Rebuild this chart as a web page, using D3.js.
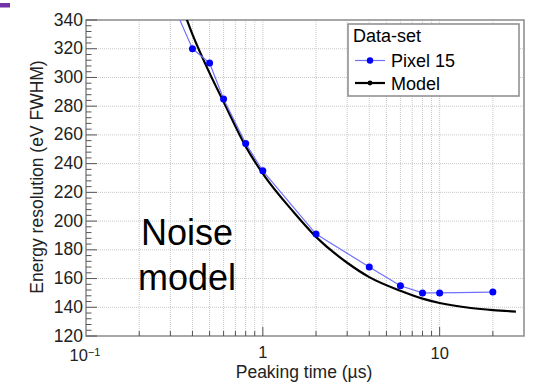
<!DOCTYPE html>
<html>
<head>
<meta charset="utf-8">
<script src="https://cdn.jsdelivr.net/npm/d3@7"></script>
<style>
  body { margin: 0; background: #fff; }
  svg { display: block; font-family: "Liberation Sans", Arial, sans-serif; }
</style>
</head>
<body>
<svg id="chart" width="539" height="382"></svg>
<script>
// measured points, Pixel 15
let pixelTime = [0.3, 0.4, 0.5, 0.6, 0.8, 1, 2, 4, 6, 8, 10, 20];
let pixelRes = [355, 320, 310, 285, 254, 235, 191, 168, 155, 150, 150, 150.6];

// noise model curve
let modelTime = [0.3, 0.4, 0.5, 0.6, 0.8, 1, 1.5, 2, 3, 4, 6, 8, 10, 15, 20, 27];
let modelRes = [373, 330, 303, 283, 252, 233, 206, 189, 171, 161, 151.5, 146, 143, 139.5, 138, 137];

let yTicks = [120, 140, 160, 180, 200, 220, 240, 260, 280, 300, 320, 340];
let legendLabels = ["Pixel 15", "Model"];

let svg = d3.select("#chart");

let plotLeft = 86, plotRight = 524, plotTop = 20, plotBottom = 336;

let x = d3.scaleLog().domain([0.1, 30]).range([plotLeft, plotRight]);
let y = d3.scaleLinear().domain([120, 340]).range([plotBottom, plotTop]);

// slide marker top-left
svg.append("rect")
    .attr("x", 0).attr("y", 3)
    .attr("width", 10).attr("height", 4.5)
    .attr("fill", "#7232a6");

svg.append("defs").append("clipPath").attr("id", "plotClip")
    .append("rect")
    .attr("x", plotLeft).attr("y", plotTop)
    .attr("width", plotRight - plotLeft).attr("height", plotBottom - plotTop);

// grid
let grid = svg.append("g");
let xGrid = x.ticks().filter(d => d > 0.1 && d < 30);
grid.selectAll("line.vg")
    .data(xGrid)
    .enter().append("line")
    .attr("x1", d => x(d)).attr("x2", d => x(d))
    .attr("y1", plotTop).attr("y2", plotBottom)
    .attr("stroke", "#c8c8c8")
    .attr("stroke-width", 1)
    .attr("stroke-dasharray", "1,1");
grid.selectAll("line.hg")
    .data(yTicks.filter(d => d > 120 && d < 340))
    .enter().append("line")
    .attr("x1", plotLeft).attr("x2", plotRight)
    .attr("y1", d => y(d)).attr("y2", d => y(d))
    .attr("stroke", "#c8c8c8")
    .attr("stroke-width", 1)
    .attr("stroke-dasharray", "1,1");

// frame
svg.append("rect")
    .attr("x", plotLeft).attr("y", plotTop)
    .attr("width", plotRight - plotLeft).attr("height", plotBottom - plotTop)
    .attr("fill", "none")
    .attr("stroke", "#8a8a8a")
    .attr("stroke-width", 1.5);

// y ticks, inward
let yMinor = d3.range(120, 341, 4);
svg.append("g").selectAll("line")
    .data(yMinor)
    .enter().append("line")
    .attr("x1", plotLeft)
    .attr("x2", d => plotLeft + (d % 20 === 0 ? 11 : 5.5))
    .attr("y1", d => y(d)).attr("y2", d => y(d))
    .attr("stroke", "#555")
    .attr("stroke-width", 1);

svg.append("g").selectAll("text")
    .data(yTicks)
    .enter().append("text")
    .attr("x", plotLeft - 3)
    .attr("y", d => y(d) + 5.5)
    .attr("text-anchor", "end")
    .style("font-size", "17.5px")
    .attr("fill", "#222")
    .text(d => d);

// x ticks, inward
svg.append("g").selectAll("line")
    .data(x.ticks().filter(d => d > 0.1 && d < 30))
    .enter().append("line")
    .attr("x1", d => x(d)).attr("x2", d => x(d))
    .attr("y1", plotBottom)
    .attr("y2", d => plotBottom - ([1, 10].includes(d) ? 9 : 5))
    .attr("stroke", "#555")
    .attr("stroke-width", 1);

let xLab = svg.append("g").style("font-size", "16.5px").attr("fill", "#222");
xLab.append("text")
    .attr("x", x(0.1) - 1).attr("y", 361)
    .attr("text-anchor", "middle")
    .text("10")
    .append("tspan")
    .attr("dy", -5)
    .style("font-size", "11px")
    .text("\u22121");
xLab.append("text")
    .attr("x", x(1)).attr("y", 358)
    .attr("text-anchor", "middle")
    .text("1");
xLab.append("text")
    .attr("x", x(10)).attr("y", 359)
    .attr("text-anchor", "middle")
    .text("10");

// axis titles
svg.append("text")
    .attr("x", 304).attr("y", 377.5)
    .attr("text-anchor", "middle")
    .style("font-size", "17.5px")
    .attr("fill", "#222")
    .text("Peaking time (\u00b5s)");
svg.append("text")
    .attr("transform", "translate(43,177)rotate(-90)")
    .attr("text-anchor", "middle")
    .style("font-size", "17.5px")
    .attr("fill", "#222")
    .text("Energy resolution (eV FWHM)");

// curves
let plot = svg.append("g").attr("clip-path", "url(#plotClip)");

let modelLine = d3.line()
    .x((d, i) => x(modelTime[i]))
    .y(d => y(d))
    .curve(d3.curveMonotoneX);
plot.append("path")
    .datum(modelRes)
    .attr("d", modelLine)
    .attr("fill", "none")
    .attr("stroke", "#000")
    .attr("stroke-width", 2.2);

let pixelLine = d3.line()
    .x((d, i) => x(pixelTime[i]))
    .y(d => y(d));
plot.append("path")
    .datum(pixelRes)
    .attr("d", pixelLine)
    .attr("fill", "none")
    .attr("stroke", "#7070ff")
    .attr("stroke-width", 1.2);
plot.selectAll("circle")
    .data(pixelRes)
    .enter().append("circle")
    .attr("cx", (d, i) => x(pixelTime[i]))
    .attr("cy", d => y(d))
    .attr("r", 3.5)
    .attr("fill", "#0000ff");

// noise model label
let note = svg.append("g").style("font-size", "36px").attr("text-anchor", "middle");
note.append("text").attr("x", 187).attr("y", 245).text("Noise");
note.append("text").attr("x", 187).attr("y", 290).text("model");

// legend
let legend = svg.append("g");
legend.append("rect")
    .attr("x", 348).attr("y", 24)
    .attr("width", 171).attr("height", 72)
    .attr("fill", "#fff")
    .attr("stroke", "#8a8a8a")
    .attr("stroke-width", 1.5);
legend.append("text")
    .attr("x", 353).attr("y", 42)
    .style("font-size", "18px")
    .text("Data-set");

let legendColors = ["#7070ff", "#000"];
let legendDots = ["#0000ff", "#000"];
let legendWidths = [1.2, 2.2];
legendLabels.forEach((lab, i) => {
    let ly = 60.5 + i * 22.5;
    legend.append("line")
        .attr("x1", 355).attr("x2", 385)
        .attr("y1", ly).attr("y2", ly)
        .attr("stroke", legendColors[i])
        .attr("stroke-width", legendWidths[i]);
    legend.append("circle")
        .attr("cx", 370).attr("cy", ly)
        .attr("r", i === 0 ? 3.2 : 2.4)
        .attr("fill", legendDots[i]);
    legend.append("text")
        .attr("x", 391).attr("y", ly + 6.5)
        .style("font-size", "18px")
        .text(lab);
});
</script>
</body>
</html>
